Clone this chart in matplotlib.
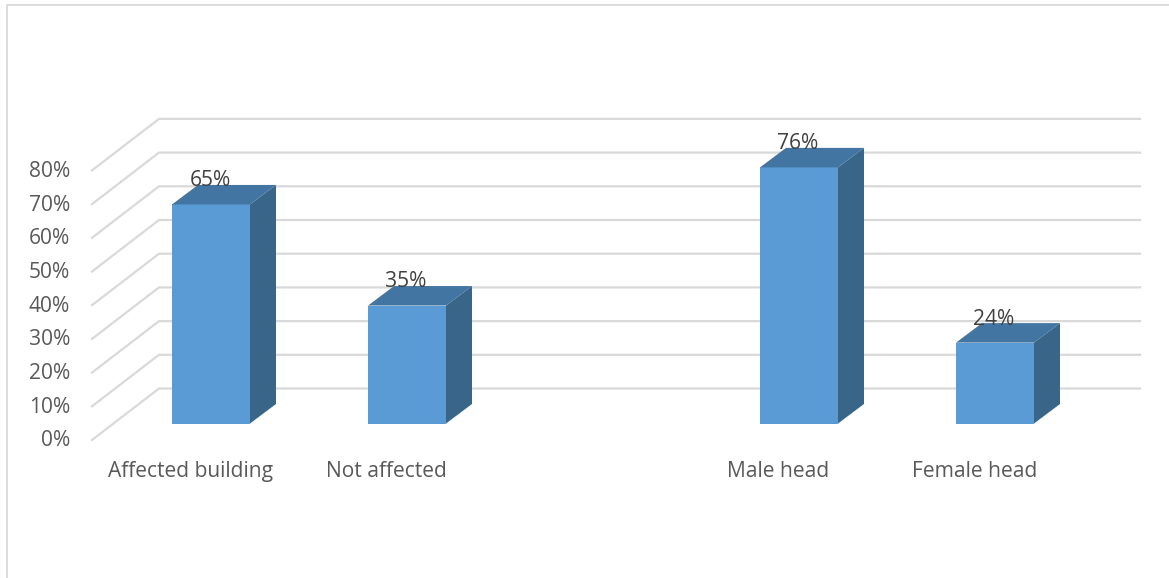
import numpy as np
import matplotlib.pyplot as plt
from matplotlib.patches import Polygon

plt.rcParams['font.family'] = ['Open Sans', 'DejaVu Sans']

categories = ["Affected building", "Not affected", "", "Male head", "Female head"]
values = [65, 35, None, 76, 24]
y_ticks = [0, 10, 20, 30, 40, 50, 60, 70, 80]

W, H = 1169, 578
PX_PER_CAT = 196.0
PX_PER_PCT = 3.37
X0_PX, Y0_PX = 211.0, 423.5   # front face of first bar at 0%

fig = plt.figure(figsize=(W / 100, H / 100), dpi=100)
ax = fig.add_axes([0, 0, 1, 1])
ax.set_xlim(-X0_PX / PX_PER_CAT, (W - X0_PX) / PX_PER_CAT)
ax.set_ylim((Y0_PX - H) / PX_PER_PCT, Y0_PX / PX_PER_PCT)
ax.axis("off")

dx_unit = 1 / PX_PER_CAT   # one pixel along x, in category units
dy_unit = 1 / PX_PER_PCT   # one pixel along y, in percent units


def shift(x, v, px, py):
    # move a data point by a pixel offset (py is upward)
    return x + px * dx_unit, v + py * dy_unit


# outer frame, open on the right and bottom
frame_x = np.array([7, 7, 1169])
frame_y = np.array([578, 5, 5])
ax.plot((frame_x - X0_PX) * dx_unit, (Y0_PX - frame_y) * dy_unit,
        color="#d9d9d9", lw=1.3, solid_capstyle="butt", zorder=1)

# floor/wall gridlines: slanted part on the left, then flat to the right edge
for v in y_ticks:
    x1, y1 = shift(0, v, 92 - X0_PX, -16.5)
    x2, y2 = shift(0, v, 159 - X0_PX, 35)
    x3, y3 = shift(0, v, 1140 - X0_PX, 35)
    ax.plot([x1, x2, x3], [y1, y2, y3], color="#d9d9d9", lw=1.6,
            solid_joinstyle="miter", zorder=2)
    ax.text(x1 - 22 * dx_unit, y1 - 1 * dy_unit, f"{v}%", ha="right", va="center",
            fontsize=15.1, color="#595959", zorder=6)

# 3-D columns: front, side and top faces
half_w, dep_x, dep_y = 39, 26, 19.5
for i, (cat, val) in enumerate(zip(categories, values)):
    if val is None:
        continue
    fl, _ = shift(i, 0, -half_w, 0)
    fr, _ = shift(i, 0, half_w, 0)
    bl, _ = shift(i, 0, -half_w + dep_x, 0)
    br, _ = shift(i, 0, half_w + dep_x, 0)
    up = dep_y * dy_unit
    ax.add_patch(Polygon([(fl, 0), (fr, 0), (fr, val), (fl, val)], fc="#5b9bd5", ec="none", zorder=4))
    ax.add_patch(Polygon([(fr, 0), (br, up), (br, val + up), (fr, val)], fc="#386588", ec="none", zorder=4))
    ax.add_patch(Polygon([(fl, val), (fr, val), (br, val + up), (bl, val + up)], fc="#4375a2", ec="none", zorder=4))
    ax.text(i - 1 * dx_unit, val + 7.0, f"{val}%", ha="center", va="center",
            fontsize=15.1, color="#404040", zorder=7)
    ax.text(i - 20.5 * dx_unit, -14.1, cat, ha="center", va="center",
            fontsize=15.1, color="#595959", zorder=6)

fig.savefig("out.png", dpi=100)
